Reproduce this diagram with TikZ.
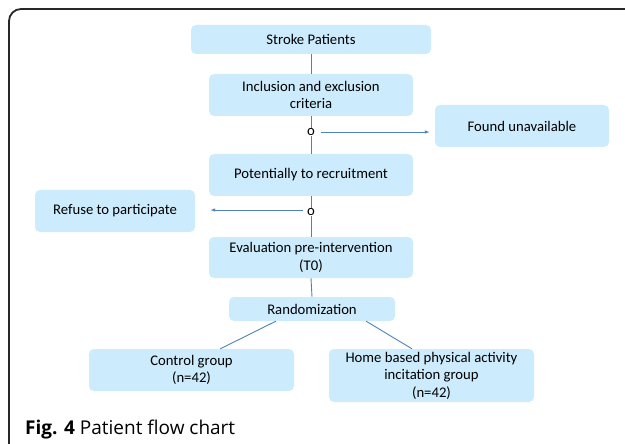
\documentclass[tikz,border=0pt]{standalone}
\usepackage{fontspec}
\setmainfont{Carlito}
\newfontfamily\capfont{Open Sans}
\usetikzlibrary{arrows.meta,calc}
\definecolor{boxfill}{RGB}{204,235,252}
\definecolor{linkblue}{RGB}{79,129,189}
\definecolor{framegray}{RGB}{40,40,40}
\tikzset{
  flowbox/.style={fill=boxfill, draw=none, rounded corners=5pt, align=center,
    inner sep=0pt, font=\fontsize{14.7}{17.5}\selectfont},
  junction/.style={inner sep=0.5pt, font=\fontsize{14.7}{15}\selectfont},
  link/.style={draw=linkblue, line width=0.9pt},
  arrowlink/.style={link, -{Latex[length=5pt,width=3.5pt]}}
}
\begin{document}
\begin{tikzpicture}[x=1pt,y=-1pt]
\useasboundingbox (0,0) rectangle (625,444);
\draw[framegray, line width=1.8pt, rounded corners=12pt] (9,460) -- (9,9) -- (640,9);

\node[flowbox, minimum width=240pt, minimum height=29pt] (stroke) at (311,39.5) {Stroke Patients};
\node[flowbox, minimum width=204pt, minimum height=42pt] (incl) at (311,95) {Inclusion and exclusion\\criteria};
\node[flowbox, minimum width=174pt, minimum height=42pt] (found) at (522,126) {Found unavailable};
\node[junction] (o1) at (311,132) {o};
\node[flowbox, minimum width=204pt, minimum height=42pt] (pot) at (311,175) {Potentially to recruitment};
\node[flowbox, minimum width=160pt, minimum height=42pt] (refuse) at (115,211) {Refuse to participate};
\node[junction] (o2) at (311,212) {o};
\node[flowbox, minimum width=204pt, minimum height=41pt] (eval) at (311,257.5) {Evaluation pre-intervention\\(T0)};
\node[flowbox, minimum width=166pt, minimum height=24pt] (rand) at (312,309) {Randomization};
\node[flowbox, minimum width=205pt, minimum height=42pt] (ctrl) at (191.5,370) {Control group\\(n=42)};
\node[flowbox, minimum width=205pt, minimum height=53pt] (home) at (431.5,375.5) {Home based physical activity\\incitation group\\(n=42)};

\draw[link] (stroke.south) -- (incl.north);
\draw[link] (incl.south) -- (o1.north);
\draw[link] (o1.south) -- (pot.north);
\draw[arrowlink, shorten <=5pt, shorten >=5pt] (o1.east |- 0,132) -- (found.west |- 0,132);
\draw[link] (pot.south) -- (o2.north);
\draw[link] (o2.south) -- (eval.north);
\draw[arrowlink, shorten <=3pt, shorten >=15pt] (o2.west |- 0,210) -- (refuse.east |- 0,210);
\draw[link] (eval.south) -- (rand.north);
\draw[link] ($(rand.south west)!0.283!(rand.south east)$) -- ($(ctrl.north west)!0.64!(ctrl.north east)$);
\draw[link] ($(rand.south west)!0.825!(rand.south east)$) -- ($(home.north west)!0.405!(home.north east)$);

\node[anchor=base west, inner sep=0pt, font=\capfont\fontsize{19}{22}\selectfont] (caption) at (25,434) {\textbf{Fig. 4} Patient flow chart};
\end{tikzpicture}
\end{document}
